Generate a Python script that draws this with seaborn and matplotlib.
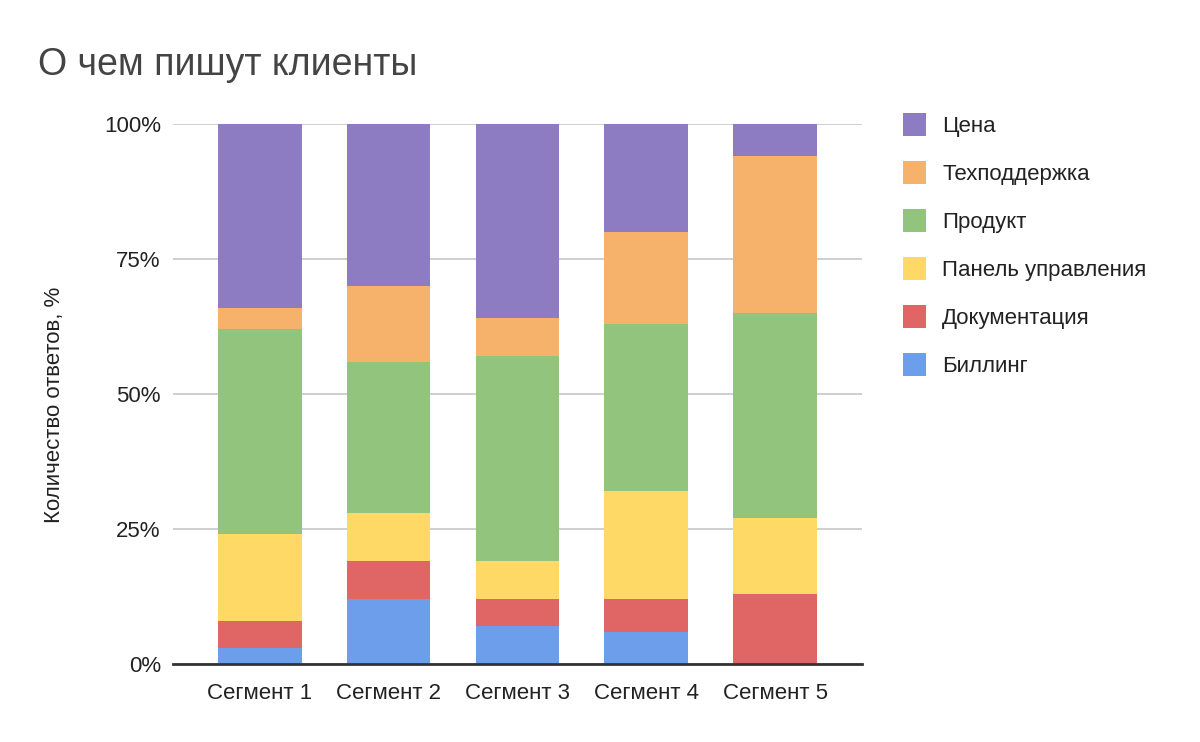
import pandas as pd
import matplotlib.pyplot as plt
import seaborn as sns
from matplotlib.patches import Patch

# данные (доля ответов, %)
segments = ['Сегмент 1', 'Сегмент 2', 'Сегмент 3', 'Сегмент 4', 'Сегмент 5']
billing = [3, 12, 7, 6, 0]
docs = [5, 7, 5, 6, 13]
panel = [16, 9, 7, 20, 14]
product = [38, 28, 38, 31, 38]
support = [4, 14, 7, 17, 29]
price = [34, 30, 36, 20, 6]

series_names = ['Биллинг', 'Документация', 'Панель управления', 'Продукт', 'Техподдержка', 'Цена']
series_vals = [billing, docs, panel, product, support, price]
colors = ['#6d9eeb', '#e06666', '#ffd966', '#93c47d', '#f6b26b', '#8e7cc3']

df = pd.DataFrame(dict(zip(series_names, series_vals)), index=segments)
cum = df.cumsum(axis=1)

sns.set_style('white')
plt.rcParams['font.family'] = ['Liberation Sans', 'DejaVu Sans']

fig = plt.figure(figsize=(12, 7.42), dpi=100)
ax = fig.add_axes([0.144, 0.105, 0.574, 0.728])

# накопленные суммы рисуем сверху вниз, каждая следующая перекрывает предыдущую
for name, col in reversed(list(zip(series_names, colors))):
    d = pd.DataFrame({'seg': segments, 'val': cum[name].values})
    sns.barplot(data=d, x='seg', y='val', color=col, width=0.65,
                saturation=1, linewidth=0, ax=ax, zorder=2)

ax.set_xlim(-0.674, 4.67)
ax.set_ylim(0, 100)
ax.set_yticks([0, 25, 50, 75, 100])
ax.set_yticklabels(['0%', '25%', '50%', '75%', '100%'])
ax.yaxis.grid(True, color='#cccccc', linewidth=1.3, zorder=0)
ax.set_axisbelow(True)
for s in ['top', 'right', 'left']:
    ax.spines[s].set_visible(False)
ax.spines['bottom'].set_color('#333333')
ax.spines['bottom'].set_linewidth(2)
ax.spines['bottom'].set_zorder(3)
ax.tick_params(axis='both', length=0, labelsize=16, colors='#222222')
ax.tick_params(axis='x', pad=13.5)
ax.tick_params(axis='y', pad=8.6)
ax.set_xlabel('')
ax.set_ylabel('Количество ответов, %', fontsize=16, color='#222222')
ax.yaxis.set_label_coords(-0.157, 0.48)

fig.text(0.032, 0.899, 'О чем пишут клиенты', fontsize=27, color='#444444',
         va='baseline', ha='left')

handles = [Patch(facecolor=c, edgecolor='none') for c in reversed(colors)]
fig.legend(handles, list(reversed(series_names)), loc='upper left',
           bbox_to_anchor=(0.736, 0.875), frameon=False, fontsize=16,
           handlelength=1.04, handleheight=1.2, handletextpad=0.72,
           labelspacing=1.09, labelcolor='#222222')

fig.savefig('out.png', dpi=100)
